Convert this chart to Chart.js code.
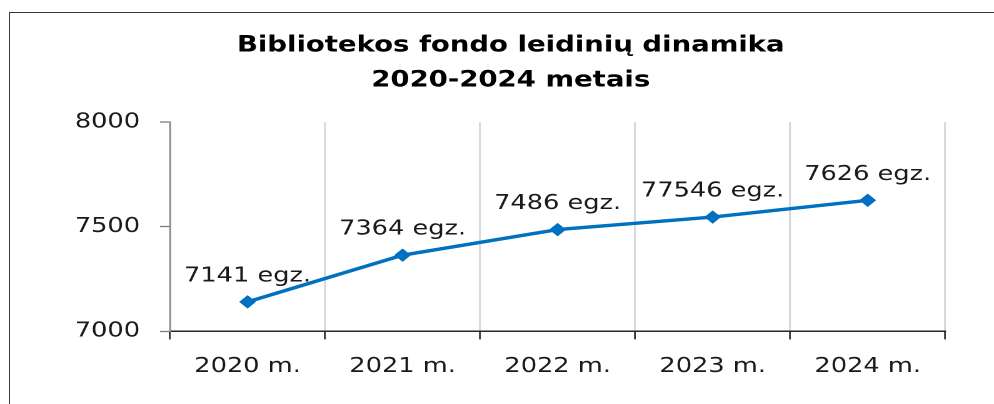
<!DOCTYPE html>
<html>
<head>
<meta charset="utf-8">
<title>Bibliotekos fondo leidinių dinamika</title>
<style>
  html, body { margin: 0; padding: 0; background: #ffffff; }
  #frame { position: absolute; left: 0; top: 0; width: 994px; height: 404px; overflow: hidden; background: #ffffff; }
  /* the chart is laid out on a narrower canvas and widened horizontally */
  #stage { position: absolute; left: 0; top: 0; width: 795px; height: 404px; transform: scaleX(1.2503); transform-origin: 0 0; }
  #edge { position: absolute; left: 9px; top: 12px; width: 1000px; height: 420px; border-left: 1.5px solid #3a3a3a; border-top: 1.5px solid #3a3a3a; pointer-events: none; }
</style>
<script src="https://cdn.jsdelivr.net/npm/chart.js@4.4.1/dist/chart.umd.min.js"></script>
</head>
<body>
<div id="frame">
  <div id="stage"><canvas id="chart" width="795" height="404"></canvas></div>
  <div id="edge"></div>
</div>
<script>
// Library holdings per year
const categories = ['2020 m.', '2021 m.', '2022 m.', '2023 m.', '2024 m.'];
const holdings = [7141, 7364, 7486, 7546, 7626];
const valueLabels = ['7141 egz.', '7364 egz.', '7486 egz.', '77546 egz.', '7626 egz.'];
const yTickValues = [7000, 7500, 8000];
const titleLines = ['Bibliotekos fondo leidinių dinamika', '2020-2024 metais'];

Chart.defaults.font.family = '"DejaVu Sans", Verdana, sans-serif';
Chart.defaults.color = '#1f1f1f';

// writes each label above its point
const pointLabels = {
  id: 'pointLabels',
  afterDatasetsDraw(chart) {
    const ctx = chart.ctx;
    const meta = chart.getDatasetMeta(0);
    ctx.save();
    ctx.font = '20.5px "DejaVu Sans", Verdana, sans-serif';
    ctx.fillStyle = '#1a1a1a';
    ctx.textAlign = 'center';
    ctx.textBaseline = 'alphabetic';
    meta.data.forEach((pt, i) => {
      ctx.fillText(valueLabels[i], pt.x, pt.y - 20.5);
    });
    ctx.restore();
  }
};

new Chart(document.getElementById('chart'), {
  type: 'line',
  data: {
    labels: categories,
    datasets: [{
      data: holdings,
      borderColor: '#0070C0',
      backgroundColor: '#0070C0',
      borderWidth: 3.4,
      tension: 0,
      pointStyle: 'rectRot',
      pointRadius: 6,
      pointBorderWidth: 1,
      pointBackgroundColor: '#0070C0',
      pointBorderColor: '#0070C0'
    }]
  },
  options: {
    responsive: false,
    devicePixelRatio: 2,
    animation: false,
    layout: { padding: { top: 10, left: 61, right: 39, bottom: 10 } },
    plugins: {
      legend: { display: false },
      tooltip: { enabled: false },
      title: {
        display: true,
        text: titleLines,
        color: '#000000',
        font: { size: 22, weight: 'bold', lineHeight: 1.59 },
        padding: { top: 18.5, bottom: 23.5 }
      }
    },
    scales: {
      x: {
        offset: true,
        grid: {
          offset: true,
          drawOnChartArea: true,
          drawTicks: true,
          color: '#d9d9d9',
          lineWidth: 1.6,
          tickColor: '#262626',
          tickLength: 8,
          tickWidth: 1.3
        },
        border: { display: true, color: '#262626', width: 1.5 },
        ticks: { font: { size: 20.5 }, color: '#1a1a1a', padding: 15 }
      },
      y: {
        min: 7000,
        max: 8000,
        afterBuildTicks(scale) { scale.ticks = yTickValues.map(v => ({ value: v })); },
        afterFit(scale) { scale.width = 75; },
        grid: {
          drawOnChartArea: false,
          drawTicks: true,
          tickLength: 8,
          tickColor: '#7f7f7f',
          tickWidth: 1.3
        },
        border: { display: true, color: '#8c8c8c', width: 1.3 },
        ticks: {
          font: { size: 20.5 },
          color: '#1a1a1a',
          padding: 16,
          callback: (value) => String(value)
        }
      }
    }
  },
  plugins: [pointLabels]
});
</script>
</body>
</html>
